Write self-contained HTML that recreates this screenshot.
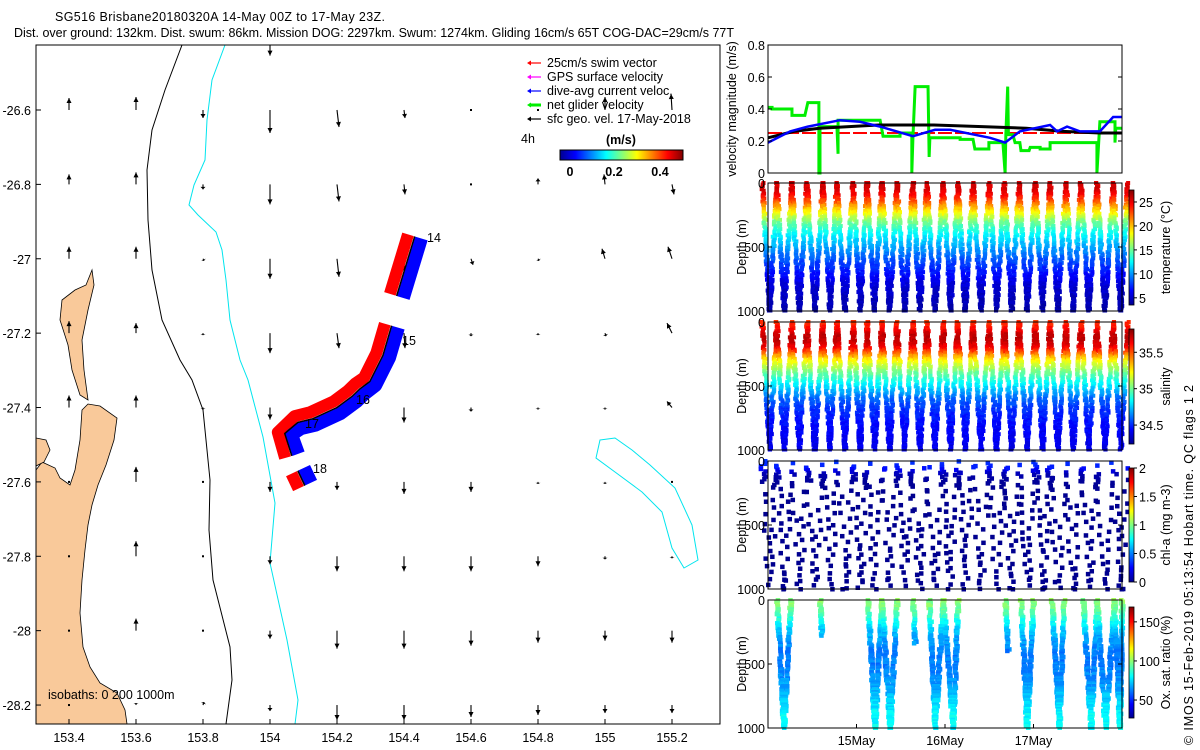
<!DOCTYPE html>
<html><head><meta charset="utf-8"><title>SG516 glider</title>
<style>
html,body{margin:0;padding:0;background:#fff;}
svg{display:block;font-family:"Liberation Sans",sans-serif;}
text{font-size:12.5px;fill:#000;}
</style></head>
<body>
<svg id="fig" width="1200" height="750" viewBox="0 0 1200 750" xmlns="http://www.w3.org/2000/svg">
<defs>
<linearGradient id="jetH" x1="0" x2="1" y1="0" y2="0">
<stop offset="0" stop-color="#00008f"/><stop offset="0.125" stop-color="#0000ff"/><stop offset="0.375" stop-color="#00ffff"/><stop offset="0.625" stop-color="#ffff00"/><stop offset="0.875" stop-color="#ff0000"/><stop offset="1" stop-color="#800000"/>
</linearGradient>
<linearGradient id="jetV" x1="0" x2="0" y1="1" y2="0">
<stop offset="0" stop-color="#00008f"/><stop offset="0.125" stop-color="#0000ff"/><stop offset="0.375" stop-color="#00ffff"/><stop offset="0.625" stop-color="#ffff00"/><stop offset="0.875" stop-color="#ff0000"/><stop offset="1" stop-color="#800000"/>
</linearGradient>
<clipPath id="mapClip"><rect x="36" y="45" width="684" height="679"/></clipPath>
</defs>
<text x="55" y="21" textLength="330">SG516 Brisbane20180320A 14-May 00Z to 17-May 23Z.</text>
<text x="14" y="37" textLength="720">Dist. over ground: 132km. Dist. swum: 86km. Mission DOG: 2297km. Swum: 1274km. Gliding 16cm/s 65T COG-DAC=29cm/s 77T</text>
<g id="map"></g>
<g id="panels"></g>
<text transform="translate(1193,565) rotate(-90)" text-anchor="middle" textLength="360">© IMOS 15-Feb-2019 05:13:54 Hobart time. QC flags 1 2</text>
</svg>
<script>
// ---------- data ----------
const lonTicks = [153.4,153.6,153.8,154,154.2,154.4,154.6,154.8,155,155.2];
const latTicks = [-26.6,-26.8,-27,-27.2,-27.4,-27.6,-27.8,-28,-28.2];
const geoLats = [-26.4,-26.6,-26.8,-27,-27.2,-27.4,-27.6,-27.8,-28,-28.2];
const geoV = [
 [0.05,0.05,0.02,-0.2,-0.08,0.02,0.02,0.02,0.02,0.02],
 [0.12,0.13,-0.08,-0.23,-0.17,-0.08,-0.01,0.0,0.13,0.16],
 [0.10,0.12,-0.05,-0.2,-0.17,-0.1,-0.01,0.06,0.1,-0.1],
 [0.12,0.12,-0.02,-0.2,-0.18,-0.12,-0.06,-0.02,0.1,0.12],
 [0.12,0.1,-0.02,-0.2,-0.15,-0.15,-0.03,-0.02,-0.03,0.1],
 [0.12,0.12,-0.02,-0.12,-0.1,-0.15,-0.04,-0.02,-0.02,0.06],
 [0.0,0.15,-0.01,-0.1,-0.08,-0.12,-0.1,-0.02,-0.02,-0.01],
 [0.0,0.15,-0.01,-0.08,-0.15,-0.15,-0.15,-0.1,-0.03,-0.02],
 [0.0,0.12,-0.01,-0.08,-0.18,-0.18,-0.15,-0.12,-0.1,-0.12],
 [0.0,0.02,0.03,-0.06,-0.15,-0.15,-0.12,-0.1,-0.08,-0.08]
];
const geoU = [
 [0,0,0,0,0.01,0,0,0,0,0],
 [0,0,0,0,0.02,0.01,0,0,0,-0.01],
 [0,0,0,0,0.02,0.01,0,0,-0.01,0.02],
 [0,0,0.01,0,0.02,0,0.02,0.01,-0.03,-0.04],
 [0,0,0,0,0.02,0.01,0,0,0.01,-0.05],
 [0,0,0,0,0.01,0,0,0,0,-0.05],
 [0,0,0,0,0,0,0,0,0,0],
 [0,0,0,0,0,0,0,0,0,0],
 [0,0,0.01,0,0,0,0,0,0,0],
 [0,0,0.01,0,0,0,0,0,0,0]
];
const trackLon = [[154.432,154.378],[154.363,154.337,154.298,154.268,154.245,154.2,154.128,154.083,154.044,154.065],[154.083,154.104]];
const trackLat = [[-26.94,-27.1],[-27.18,-27.26,-27.33,-27.35,-27.37,-27.4,-27.43,-27.44,-27.47,-27.53],[-27.57,-27.61]];
const dayLabels = ['15May','16May','17May'];
const dayHours = [24,48,72];
const greenT = [0,1.1,1.1,6.5,6.5,10,10.8,13.8,13.8,14.1,14.1,18.7,19,19,30.4,31.2,35.8,35.8,39,39,39.3,39.9,43.4,43.7,43.9,52.1,52.1,55.6,56.1,59.9,59.9,63.7,64.3,64.5,65,65.2,66.4,67,68.3,68.6,70.8,71.1,73.8,73.8,76.5,76.5,89.2,89.2,90,94.1,94.1,94.3,96];
const greenV = [.41,.41,.40,.40,.36,.36,.44,.44,0,0,.29,.29,.12,.33,.33,.23,.23,.25,.25,0,.22,.54,.54,.10,.22,.22,.21,.21,.15,.15,.19,.19,0,.24,.54,.24,.24,.19,.19,.14,.14,.16,.16,.15,.15,.19,.19,0,.32,.32,.19,.28,.28];
const blueT = [0,6,10.8,19.5,24.9,30.4,39.3,45.3,49.4,60.2,64.3,68.3,76.5,78.4,81.1,84.6,90,93.6,96];
const blueV = [.19,.26,.29,.33,.32,.29,.23,.27,.27,.22,.19,.26,.30,.26,.29,.26,.26,.35,.35];
const blackT = [0,7,14,22,30,45,58,70,80,90,96];
const blackV = [.22,.26,.28,.29,.30,.30,.29,.28,.26,.25,.25];
const redT = [0,96];
const redV = [.25,.25];
const surfT = [2.4,6.5,10.6,14.9,18.7,23.1,26.9,30.9,35.0,39.3,43.1,47.5,51.5,55.6,60.0,64.1,68.1,72.5,76.5,80.8,84.9,89.2,93.6];
const bottomT = [0.5,4.4,8.5,12.7,16.8,20.9,25.0,28.9,33.0,37.1,41.2,45.3,49.5,53.5,57.8,62.0,66.1,70.3,74.5,78.6,82.8,87.0,91.4,95.7];
const profDepth = [0,50,100,150,200,250,300,400,500,600,700,800,900,1000];
const tempProf = [25.5,25.5,24.5,22.5,20,18,15.5,12.5,10.5,8.5,7,5.5,5,4.5];
const salProf = [35.55,35.6,35.72,35.72,35.65,35.45,35.25,35.0,34.8,34.6,34.5,34.45,34.42,34.4];
const chlProf = [0.35,0.3,0.1,0.05,0.04,0.03,0.03,0.03,0.03,0.03,0.03,0.03,0.03,0.03];
const oxProf = [100,98,92,85,78,72,68,63,62,64,68,75,80,80];
const oxStart = [2.4,14.1,27.1,30.9,39.3,43.7,47.5,64.3,68.6,77.0,85.4,89.2,93.9];
const oxBot = [4.3,14.6,29.0,33.1,39.9,45.3,50.2,65.1,70.2,79.0,87.6,91.5,95.4];
const oxEnd = [6.2,15.0,30.9,35.0,40.2,47.5,51.5,65.4,72.0,80.3,89.2,93.9,96];
const oxMax = [1000,280,1000,1000,340,1000,1000,400,1000,1000,1000,1000,1000];

// ---------- helpers ----------
const NS='http://www.w3.org/2000/svg';
function el(tag,attrs,parent){const e=document.createElementNS(NS,tag);for(const k in attrs)e.setAttribute(k,attrs[k]);parent.appendChild(e);return e;}
function jet(t){t=Math.max(0,Math.min(1,t));const c=v=>Math.round(255*Math.max(0,Math.min(1,v)));
 return `rgb(${c(1.5-Math.abs(4*t-3))},${c(1.5-Math.abs(4*t-2))},${c(1.5-Math.abs(4*t-1))})`;}
function interp(xs,ys,x){for(let i=1;i<xs.length;i++){if(x<=xs[i]){const f=(x-xs[i-1])/(xs[i]-xs[i-1]);return ys[i-1]+f*(ys[i]-ys[i-1]);}}return ys[ys.length-1];}
// deterministic jitter (visual texture only)
let seed=7;function jit(){seed=(seed*16807)%2147483647;return (seed/2147483647)-0.5;}

// ---------- map ----------
const map=document.getElementById('map');
const lonX = lon => 69 + (lon-153.4)*335;
const latY = lat => 110 + (-26.6-lat)*371.9;
const mc=el('g',{'clip-path':'url(#mapClip)'},map);


const land1=el('polygon',{points:'36,724 36,470 42,462 55,468 60,478 70,485 75,470 80,440 82,410 88,404 100,406 117,418 114,440 106,465 98,485 92,505 88,525 85,550 82,580 80,613 83,647 90,667 100,683 117,693 125,710 127,724',fill:'#f9c99a',stroke:'#000','stroke-width':'0.8'},mc);


const land2=el('polygon',{points:'92,270 86,285 75,290 62,300 60,320 68,345 72,370 80,395 88,400 84,370 82,340 88,310 94,285',fill:'#f9c99a',stroke:'#000','stroke-width':'0.8'},mc);


const land3=el('polygon',{points:'36,438 46,440 50,450 44,462 36,466',fill:'#f9c99a',stroke:'#000','stroke-width':'0.8'},mc);


const iso200=el('polyline',{points:'182,45 165,90 152,130 147,170 148,220 152,270 162,320 180,360 192,380 203,410 210,480 209,530 213,580 230,647 232,680 226,724',fill:'none',stroke:'#000','stroke-width':'1'},mc);


const iso1000=el('polyline',{points:'225,45 212,80 207,120 205,160 194,185 189,205 198,215 216,232 222,250 226,280 230,320 240,360 248,380 263,437 275,503 270,563 287,640 298,700 295,724',fill:'none',stroke:'#00e5ee','stroke-width':'1'},mc);


const isoLoop=el('polygon',{points:'600,440 615,438 632,450 650,465 675,488 692,525 698,560 684,568 672,548 662,512 642,492 615,472 596,458',fill:'none',stroke:'#00e5ee','stroke-width':'1'},mc);


geoLats.forEach((lat,r)=>{lonTicks.forEach((lon,c)=>{
  const x0=lonX(lon),y0=latY(lat),u=geoU[r][c],v=geoV[r][c];
  const x1=x0+u*100,y1=y0-v*100;const L=Math.hypot(x1-x0,y1-y0);
  const g=el('g',{},mc);
  
  
  if(L<1.5){el('rect',{x:x0-1,y:y0-1,width:2,height:2,fill:'#000'},g);return;}
  el('line',{x1:x0,y1:y0,x2:x1,y2:y1,stroke:'#000','stroke-width':'1.1'},g);
  const dx=(x1-x0)/L,dy=(y1-y0)/L,h=Math.min(5,L*0.5);
  el('polygon',{points:`${x1},${y1} ${x1-dx*h-dy*2.5},${y1-dy*h+dx*2.5} ${x1-dx*h+dy*2.5},${y1-dy*h-dx*2.5}`,fill:'#000'},g);
});});
trackLon.forEach((seg,s)=>{
  const pts=seg.map((lon,i)=>[lonX(lon),latY(trackLat[s][i])]);
  const off=(d)=>pts.map((p,i)=>{const a=pts[Math.max(0,i-1)],b=pts[Math.min(pts.length-1,i+1)];let dx=b[0]-a[0],dy=b[1]-a[1];const L=Math.hypot(dx,dy)||1;return [p[0]-dy/L*d,p[1]+dx/L*d].join(',');}).join(' ');
  const red=el('polyline',{points:off(7),fill:'none',stroke:'#ff0000','stroke-width':'12','stroke-linejoin':'round'},mc);
  
  
  const blue=el('polyline',{points:off(-7),fill:'none',stroke:'#0000ff','stroke-width':'13','stroke-linejoin':'round'},mc);
  
  
  const line=el('polyline',{points:pts.map(p=>p.join(',')).join(' '),fill:'none',stroke:'#000','stroke-width':'1.5'},mc);
  
  
});
[['14',427,242],['15',402,345],['16',356,404],['17',305,428],['18',313,473]].forEach(d=>{
  const t=el('text',{x:d[1],y:d[2]},mc);t.textContent=d[0];
  
  
});
const isoT=el('text',{x:48,y:699},mc);isoT.textContent='isobaths: 0   200  1000m';


const mf=el('rect',{x:36,y:45,width:684,height:679,fill:'none',stroke:'#000','stroke-width':'1'},map);


lonTicks.forEach(lon=>{const x=lonX(lon);el('line',{x1:x,y1:724,x2:x,y2:719,stroke:'#000'},map);
  const t=el('text',{x:x,y:742,'text-anchor':'middle'},map);t.textContent=String(lon);
  
  });
latTicks.forEach(lat=>{const y=latY(lat);el('line',{x1:36,y1:y,x2:41,y2:y,stroke:'#000'},map);
  const t=el('text',{x:31,y:y+5,'text-anchor':'end'},map);t.textContent=String(lat);
  
  });
const leg=el('g',{},map);


[['25cm/s swim vector','#ff0000'],['GPS surface velocity','#ff00ff'],['dive-avg current veloc.','#0000ff'],['net glider velocity','#00ee00'],['sfc geo. vel. 17-May-2018','#000']].forEach((d,i)=>{
  const y=67+i*14;const g=el('g',{},leg);
  
  
  el('line',{x1:529,y1:y-4,x2:541,y2:y-4,stroke:d[1],'stroke-width':i==3?3:1.2},g);
  el('polygon',{points:`${527},${y-4} ${531},${y-6.5} ${531},${y-1.5}`,fill:d[1]},g);
  const t=el('text',{x:547,y:y},g);t.textContent=d[0];
});
const t4=el('text',{x:521,y:143},leg);t4.textContent='4h';
const tu=el('text',{x:606,y:144,'font-weight':'bold'},leg);tu.textContent='(m/s)';
const cb=el('rect',{x:560,y:150,width:123,height:10,fill:'url(#jetH)',stroke:'#000'},leg);


[['0',570],['0.2',614],['0.4',660]].forEach(d=>{const t=el('text',{x:d[1],y:176,'text-anchor':'middle','font-weight':'bold'},leg);t.textContent=d[0];});

// ---------- right panels ----------
const P=document.getElementById('panels');
const X0=768,X1=1122;
const xh=h=>X0+h/96*(X1-X0);
function frame(y0,y1,name){const r=el('rect',{x:X0,y:y0,width:X1-X0,height:y1-y0,fill:'none',stroke:'#000','stroke-width':'1'},P);
 
 }
function ylab(x,y,txt,name){const t=el('text',{transform:`translate(${x},${y}) rotate(-90)`,'text-anchor':'middle'},P);t.textContent=txt;
 
 }
function tick(y,label){el('line',{x1:X0,y1:y,x2:X0+4,y2:y,stroke:'#000'},P);el('line',{x1:X1,y1:y,x2:X1-4,y2:y,stroke:'#000'},P);
 const t=el('text',{x:765,y:y+5,'text-anchor':'end'},P);t.textContent=label;
 
 }
const VY0=45,VY1=173;const vy=v=>VY1-v/0.8*(VY1-VY0);
function series(T,V,color,w,name,dash){const p=el('polyline',{points:T.map((t,i)=>xh(t)+','+vy(V[i])).join(' '),fill:'none',stroke:color,'stroke-width':w},P);
 if(dash)p.setAttribute('stroke-dasharray',dash);
 
 }
series(redT,redV,'#ff0000',2,'target-speed-line','14 3');
series(greenT,greenV,'#00ee00',3,'net-glider-velocity-line');
series(blackT,blackV,'#000',3,'speed-through-water-line');
series(blueT,blueV,'#0000ff',2.5,'dive-avg-current-line');
frame(VY0,VY1,'velocity-panel-frame');
[0,0.2,0.4,0.6,0.8].forEach(v=>tick(vy(v),String(v)));
ylab(736,109,'velocity magnitude (m/s)','velocity-y-axis-title');

function profPanel(y0,y1,prof,vmin,vmax,name,step){
  const dy=d=>y0+d/1000*(y1-y0);
  const g=el('g',{},P);
  
  
  const pt=(t,d)=>{const v=interp(profDepth,prof,d)+jit()*(vmax-vmin)*0.04;el('rect',{x:xh(t)-2+jit()*2.5,y:dy(d)-2,width:4,height:4,fill:jet((v-vmin)/(vmax-vmin))},g);};
  for(let k=0;k<bottomT.length;k++){
    const tb=bottomT[k];const ts0=k>0?surfT[k-1]:-1.5;const ts1=k<surfT.length?surfT[k]:97.5;
    for(let d=0;d<=1000;d+=step){pt(ts0+(tb-ts0)*d/1000,d);pt(ts1+(tb-ts1)*d/1000,d);}
  }
}
profPanel(183,311,tempProf,3.5,27.5,'temperature',12);
frame(183,311,'temperature-panel-frame');
profPanel(322,450,salProf,34.24,35.82,'salinity',12);
frame(322,450,'salinity-panel-frame');
(function(){
  const y0=461,y1=589,dy=d=>y0+d/1000*(y1-y0);
  const g=el('g',{},P);
  
  
  for(let k=0;k<bottomT.length;k++){
    const tb=bottomT[k];const ts0=k>0?surfT[k-1]:-1.5;const ts1=k<surfT.length?surfT[k]:97.5;
    const st=k%3==0?20:90;
    for(let d=(k*37)%60;d<=1000;d+=(d<150?st:80+jit()*60)){
      [[ts0,d],[ts1,d+45]].forEach(p=>{const dd=Math.min(1000,p[1]);const t=p[0]+(tb-p[0])*dd/1000+jit()*1.5;const v=interp(profDepth,chlProf,dd);
        el('rect',{x:xh(t)-2,y:dy(dd)-2,width:4.5,height:4.5,fill:jet(v/2)},g);});
    }
  }
})();
frame(461,589,'chl-panel-frame');
(function(){
  const y0=600,y1=728,dy=d=>y0+d/1000*(y1-y0);
  const g=el('g',{},P);
  
  
  oxStart.forEach((s,i)=>{const b=oxBot[i],e=oxEnd[i],m=oxMax[i];
    for(let d=0;d<=m;d+=12){const v=interp(profDepth,oxProf,d)+jit()*8;const c=jet((v-27)/(169-27));
      el('rect',{x:xh(s+(b-s)*d/m)-2+jit()*2.5,y:dy(d)-2,width:4.5,height:4.5,fill:c},g);
      if(m>=1000)el('rect',{x:xh(e+(b-e)*d/m)-2+jit()*2.5,y:dy(d)-2,width:4.5,height:4.5,fill:c},g);}
  });
})();
frame(600,728,'oxygen-panel-frame');
[[183,311],[322,450],[461,589],[600,728]].forEach((p,i)=>{
  [0,500,1000].forEach(d=>tick(p[0]+d/1000*(p[1]-p[0]),String(d)));
  ylab(746,(p[0]+p[1])/2,'Depth (m)','depth-axis-title-'+(i+1));
});
dayHours.forEach((h,i)=>{const x=xh(h);el('line',{x1:x,y1:728,x2:x,y2:724,stroke:'#000'},P);
  const t=el('text',{x:x,y:745,'text-anchor':'middle'},P);t.textContent=dayLabels[i];
  
  });
function cbar(y0,y1,vmin,vmax,ticks,label,name){
  const r=el('rect',{x:1129,y:y0,width:5,height:y1-y0,fill:'url(#jetV)',stroke:'#000','stroke-width':'0.8'},P);
  
  
  ticks.forEach(v=>{const y=y1-(v-vmin)/(vmax-vmin)*(y1-y0);el('line',{x1:1134,y1:y,x2:1137,y2:y,stroke:'#000'},P);
    const t=el('text',{x:1139,y:y+5},P);t.textContent=String(v);
    
    });
  ylab(1170,(y0+y1)/2,label,name+'-title');
}
cbar(190,305,3.5,27.5,[5,10,15,20,25],'temperature (°C)','temperature-colorbar');
cbar(329,444,34.24,35.82,[34.5,35,35.5],'salinity','salinity-colorbar');
cbar(468,582,0,2,[0,0.5,1,1.5,2],'chl-a (mg m-3)','chl-colorbar');
cbar(607,718,27,169,[50,100,150],'Ox. sat. ratio (%)','oxygen-colorbar');
</script>
</body></html>
